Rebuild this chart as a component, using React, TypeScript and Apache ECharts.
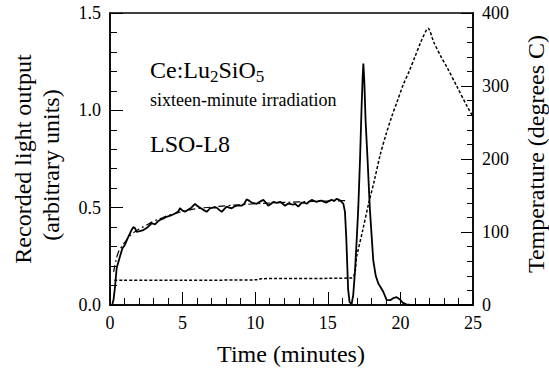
import React, { useEffect, useRef } from 'react';
import * as echarts from 'echarts';

// Recorded light output (solid line), minutes vs arbitrary units
const lightTime = [0.15, 0.25, 0.34, 0.46, 0.69, 0.85, 1.03, 1.26, 1.45, 1.6, 1.72, 1.84, 2.05, 2.3, 2.6, 2.87, 3.1, 3.3, 3.44, 3.7, 3.9, 4.2, 4.48, 4.7, 4.82, 5.0, 5.17, 5.4, 5.6, 5.85, 6.0, 6.2, 6.4, 6.66, 6.89, 7.1, 7.35, 7.5, 7.69, 8.03, 8.2, 8.38, 8.55, 8.72, 9.06, 9.25, 9.41, 9.6, 9.76, 10.1, 10.3, 10.56, 10.75, 10.9, 11.1, 11.25, 11.5, 11.71, 11.9, 12.05, 12.25, 12.4, 12.6, 12.74, 12.97, 13.2, 13.4, 13.54, 13.7, 13.89, 14.05, 14.23, 14.4, 14.57, 14.75, 14.92, 15.1, 15.26, 15.45, 15.6, 15.8, 15.95, 16.07, 16.18, 16.27, 16.4, 16.5, 16.64, 16.75, 16.87, 17.0, 17.1, 17.22, 17.32, 17.4, 17.45, 17.52, 17.6, 17.74, 17.9, 18.13, 18.3, 18.48, 18.65, 18.82, 19.05, 19.3, 19.5, 19.74, 19.95, 20.15, 20.4, 20.7, 25];
const lightValue = [0.0, 0.03, 0.09, 0.19, 0.25, 0.29, 0.31, 0.35, 0.38, 0.4, 0.395, 0.376, 0.38, 0.385, 0.4, 0.42, 0.414, 0.43, 0.437, 0.445, 0.453, 0.46, 0.47, 0.48, 0.497, 0.485, 0.479, 0.49, 0.5, 0.519, 0.51, 0.5, 0.49, 0.479, 0.497, 0.5, 0.5, 0.49, 0.479, 0.505, 0.5, 0.497, 0.505, 0.51, 0.51, 0.52, 0.543, 0.535, 0.526, 0.52, 0.53, 0.54, 0.525, 0.51, 0.52, 0.53, 0.525, 0.53, 0.52, 0.51, 0.52, 0.52, 0.515, 0.52, 0.505, 0.526, 0.525, 0.52, 0.53, 0.54, 0.535, 0.53, 0.535, 0.536, 0.53, 0.526, 0.535, 0.54, 0.535, 0.545, 0.54, 0.53, 0.52, 0.48, 0.35, 0.08, 0.015, 0.005, 0.05, 0.17, 0.35, 0.5, 0.75, 1.0, 1.17, 1.24, 1.14, 0.95, 0.745, 0.49, 0.23, 0.15, 0.11, 0.09, 0.068, 0.026, 0.025, 0.035, 0.04, 0.03, 0.012, 0.003, 0.0, 0.0];

// Fitted build-up curve (dash-dot line)
const fitTime = [0.25, 0.34, 0.57, 0.8, 1.0, 1.3, 1.6, 2.0, 2.5, 3.0, 3.5, 4.0, 4.5, 5.0, 6.0, 7.0, 8.0, 9.0, 10.0, 11.0, 12.0, 13.0, 14.0, 15.0, 16.0, 16.3];
const fitValue = [0.17, 0.205, 0.27, 0.3, 0.32, 0.35, 0.37, 0.39, 0.41, 0.43, 0.445, 0.46, 0.47, 0.48, 0.495, 0.503, 0.51, 0.515, 0.52, 0.524, 0.527, 0.53, 0.532, 0.534, 0.536, 0.537];

// Temperature (dotted line), degrees C on right axis
const tempTime = [0.3, 5, 10.2, 10.4, 16.6, 17.0, 17.4, 17.8, 18.2, 18.6, 19.0, 19.4, 19.8, 20.2, 20.6, 21.0, 21.4, 21.8, 21.9, 22.3, 22.8, 23.2, 23.9, 24.6, 25];
const tempValue = [34, 34, 34.5, 36, 37, 68, 102, 138, 170, 205, 233, 258, 280, 302, 320, 340, 360, 377, 379, 360, 340, 326, 299, 272, 258];

const xTicks = { min: 0, max: 25, interval: 5 };
const yLeftTicks = { min: 0, max: 1.5, interval: 0.5 };
const yRightTicks = { min: 0, max: 400, interval: 100 };

const zip = (a: number[], b: number[]) => a.map((v, i) => [v, b[i]]);

export default function App() {
  const ref = useRef<HTMLDivElement>(null);
  useEffect(() => {
    const chart = echarts.init(ref.current!, null, { renderer: 'svg' });
    const font = '"Liberation Serif", "Times New Roman", Times, serif';
    const axisCommon = {
      axisLine: { show: true, onZero: false, lineStyle: { color: '#000', width: 1.5 } },
      axisTick: { show: true, inside: true, length: 13, lineStyle: { color: '#000', width: 1 } },
      minorTick: { show: true, splitNumber: 5, length: 7, lineStyle: { color: '#000', width: 1 } },
      axisLabel: { color: '#000', fontFamily: font, fontSize: 18, margin: 9 },
      splitLine: { show: false },
      minorSplitLine: { show: false },
    };
    const txt = (size: number) => ({ fontFamily: font, fontSize: size, fill: '#000' });
    chart.setOption({
      animation: false,
      backgroundColor: '#fff',
      textStyle: { fontFamily: font },
      grid: { left: 110, top: 13, right: 76, bottom: 67, show: true, borderColor: '#000', borderWidth: 1.5, backgroundColor: 'transparent' },
      xAxis: { type: 'value', ...xTicks, ...axisCommon },
      yAxis: [
        { type: 'value', position: 'left', ...yLeftTicks, ...axisCommon,
          axisLabel: { ...axisCommon.axisLabel, formatter: (v: number) => v.toFixed(1) } },
        { type: 'value', position: 'right', ...yRightTicks, ...axisCommon,
          axisTick: { ...axisCommon.axisTick, length: 12 },
          minorTick: { ...axisCommon.minorTick, length: 6 } },
      ],
      series: [
        { type: 'line', yAxisIndex: 1, data: zip(tempTime, tempValue), showSymbol: false, smooth: 0.3,
          lineStyle: { color: '#000', width: 1.5, type: [3, 2] } },
        { type: 'line', yAxisIndex: 0, data: zip(fitTime, fitValue), showSymbol: false, smooth: 0.4,
          lineStyle: { color: '#000', width: 1.2, type: [7, 3, 2, 3] } },
        { type: 'line', yAxisIndex: 0, data: zip(lightTime, lightValue), showSymbol: false,
          lineStyle: { color: '#000', width: 1.8 } },
      ],
      graphic: [
        { type: 'text', x: 150, y: 70, style: {
            text: '{a|Ce:Lu}{b|2}{a|SiO}{b|5}', textVerticalAlign: 'middle',
            rich: {
              a: { ...txt(24), lineHeight: 30, verticalAlign: 'middle' },
              b: { ...txt(17), lineHeight: 30, verticalAlign: 'bottom' },
            } } },
        { type: 'text', x: 150, y: 100, style: { text: 'sixteen-minute irradiation', ...txt(18), textVerticalAlign: 'middle' } },
        { type: 'text', x: 150, y: 144, style: { text: 'LSO-L8', ...txt(24), textVerticalAlign: 'middle' } },
        { type: 'text', x: 291, y: 354, style: { text: 'Time (minutes)', ...txt(24), textAlign: 'center', textVerticalAlign: 'middle' } },
        { type: 'text', x: 23, y: 159, rotation: Math.PI / 2, style: { text: 'Recorded light output', ...txt(24), textAlign: 'center', textVerticalAlign: 'middle' } },
        { type: 'text', x: 51, y: 165, rotation: Math.PI / 2, style: { text: '(arbitrary units)', ...txt(24), textAlign: 'center', textVerticalAlign: 'middle' } },
        { type: 'text', x: 536, y: 154, rotation: Math.PI / 2, style: { text: 'Temperature (degrees C)', ...txt(24), textAlign: 'center', textVerticalAlign: 'middle' } },
      ],
    });
    return () => chart.dispose();
  }, []);
  return <div ref={ref} style={{ position: 'absolute', left: 0, top: 0, width: 549, height: 372 }} />;
}
